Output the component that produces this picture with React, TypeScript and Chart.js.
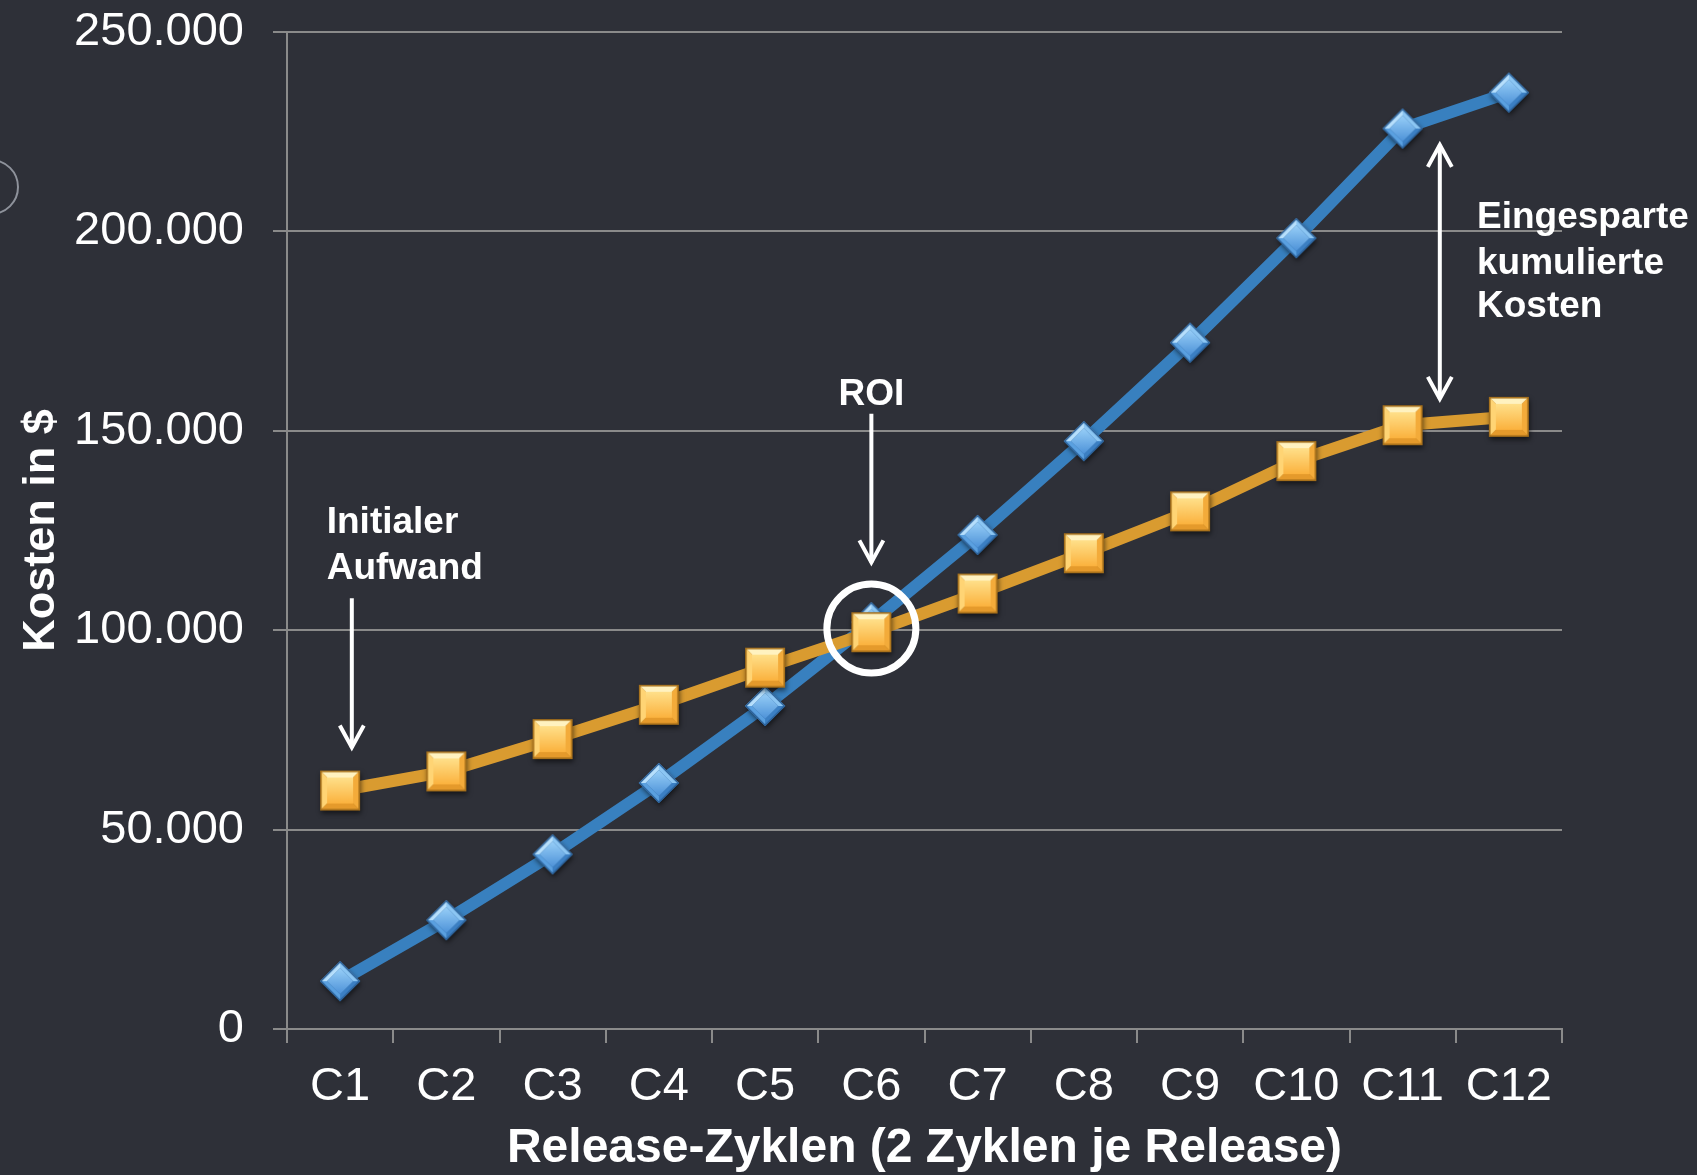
import React, { useEffect, useRef } from 'react';
import { Chart, registerables } from 'chart.js';

Chart.register(...registerables);

// ---------- data ----------
const categories = ['C1', 'C2', 'C3', 'C4', 'C5', 'C6', 'C7', 'C8', 'C9', 'C10', 'C11', 'C12'];
const blueValues = [12000, 27300, 43800, 61700, 81000, 102000, 123900, 147400, 172100, 198300, 225800, 234800];
const orangeValues = [59800, 64600, 72700, 81300, 90600, 99500, 109200, 119300, 129800, 142400, 151400, 153500];
const yTickValues = [0, 50000, 100000, 150000, 200000, 250000];

const xTitle = 'Release-Zyklen (2 Zyklen je Release)';
const yTitle = 'Kosten in $';

// annotation texts and anchors (category index, value)
const initialLines = ['Initialer', 'Aufwand'];
const initialTextAnchor = [-0.126, 127000, 115500];
const initialArrow = [0.11, 108000, 70600];
const roiLines = ['ROI'];
const roiIndex = 5;
const roiTextValue = 159000;
const roiArrow = [5, 154300, 117000];
const roiCircleValue = 100400;
const savedLines = ['Eingesparte', 'kumulierte', 'Kosten'];
const savedTextAnchor = [10.7, 203300, 191900, 181000];
const savedArrow = [10.35, 221700, 158000];

// ---------- style ----------
const FONT = '"Liberation Sans", Arial, Helvetica, sans-serif';
const BG = '#2e3038';
const GRID = '#8a8a8a';
const BLUE = '#3880bf';
const ORANGE = '#d99b30';

const fmt = (v: number) => String(v).replace(/\B(?=(\d{3})+(?!\d))/g, '.');

function poly(g: CanvasRenderingContext2D, pts: number[][], fill: string | CanvasGradient) {
  g.beginPath();
  g.moveTo(pts[0][0], pts[0][1]);
  for (let i = 1; i < pts.length; i++) g.lineTo(pts[i][0], pts[i][1]);
  g.closePath();
  g.fillStyle = fill;
  g.fill();
}

function makeSquare(side: number): HTMLCanvasElement {
  const pad = 8;
  const c = document.createElement('canvas');
  c.width = c.height = side + pad * 2;
  const g = c.getContext('2d')!;
  const x0 = pad, y0 = pad, x1 = pad + side, y1 = pad + side;
  const b = 7;
  g.save();
  g.shadowColor = 'rgba(0,0,0,0.55)';
  g.shadowBlur = 5;
  g.shadowOffsetX = 1;
  g.shadowOffsetY = 3;
  g.fillStyle = '#b47a1c';
  g.fillRect(x0, y0, side, side);
  g.restore();
  poly(g, [[x0, y0], [x1, y0], [x1 - b, y0 + b], [x0 + b, y0 + b]], '#fff2c0');
  poly(g, [[x0, y0], [x0 + b, y0 + b], [x0 + b, y1 - b], [x0, y1]], '#ffd474');
  poly(g, [[x1, y0], [x1, y1], [x1 - b, y1 - b], [x1 - b, y0 + b]], '#f3ab3a');
  poly(g, [[x0, y1], [x0 + b, y1 - b], [x1 - b, y1 - b], [x1, y1]], '#e59a2b');
  const gr = g.createLinearGradient(0, y0 + b, 0, y1 - b);
  gr.addColorStop(0, '#ffe08a');
  gr.addColorStop(1, '#fbb23e');
  poly(g, [[x0 + b, y0 + b], [x1 - b, y0 + b], [x1 - b, y1 - b], [x0 + b, y1 - b]], gr);
  g.strokeStyle = '#a46e1a';
  g.lineWidth = 1.6;
  g.strokeRect(x0 + 0.8, y0 + 0.8, side - 1.6, side - 1.6);
  return c;
}

function makeDiamond(r: number): HTMLCanvasElement {
  const pad = 8;
  const c = document.createElement('canvas');
  c.width = c.height = 2 * r + pad * 2;
  const g = c.getContext('2d')!;
  const cx = pad + r, cy = pad + r;
  const r2 = r - 7;
  const T = [cx, cy - r], R = [cx + r, cy], B = [cx, cy + r], L = [cx - r, cy];
  const t = [cx, cy - r2], rr = [cx + r2, cy], bb = [cx, cy + r2], l = [cx - r2, cy];
  g.save();
  g.shadowColor = 'rgba(0,0,0,0.55)';
  g.shadowBlur = 5;
  g.shadowOffsetX = 1;
  g.shadowOffsetY = 3;
  poly(g, [T, R, B, L], '#2f69a3');
  g.restore();
  poly(g, [T, t, l, L], '#b6dffc');
  poly(g, [T, R, rr, t], '#8cc6f3');
  poly(g, [L, l, bb, B], '#5aa0e0');
  poly(g, [R, B, bb, rr], '#3b7fc3');
  const gr = g.createLinearGradient(0, cy - r2, 0, cy + r2);
  gr.addColorStop(0, '#98cff8');
  gr.addColorStop(1, '#4d92d8');
  poly(g, [t, rr, bb, l], gr);
  g.beginPath();
  g.moveTo(T[0], T[1] + 0.8);
  g.lineTo(R[0] - 0.8, R[1]);
  g.lineTo(B[0], B[1] - 0.8);
  g.lineTo(L[0] + 0.8, L[1]);
  g.closePath();
  g.strokeStyle = '#2c629a';
  g.lineWidth = 1.4;
  g.stroke();
  return c;
}

function drawArrow(ctx: CanvasRenderingContext2D, x: number, yStart: number, yEnd: number, both: boolean) {
  const hw = 12, hh = 22;
  ctx.beginPath();
  ctx.moveTo(x, yStart);
  ctx.lineTo(x, yEnd);
  ctx.stroke();
  const head = (tipY: number, dir: number) => {
    ctx.beginPath();
    ctx.moveTo(x - hw, tipY - dir * hh);
    ctx.lineTo(x, tipY);
    ctx.lineTo(x + hw, tipY - dir * hh);
    ctx.stroke();
  };
  head(yEnd, yEnd > yStart ? 1 : -1);
  if (both) head(yStart, yStart > yEnd ? 1 : -1);
}

const bgPlugin = {
  id: 'bgFill',
  beforeDraw(chart: any) {
    const { ctx, width, height } = chart;
    ctx.save();
    ctx.fillStyle = BG;
    ctx.fillRect(0, 0, width, height);
    // partial decorative circle at the left edge
    ctx.beginPath();
    ctx.arc(-9, 187, 27, 0, Math.PI * 2);
    ctx.strokeStyle = '#8e929b';
    ctx.lineWidth = 2;
    ctx.stroke();
    ctx.restore();
  },
};

const annotationPlugin = {
  id: 'annotations',
  afterDatasetsDraw(chart: any) {
    const { ctx } = chart;
    const x = chart.scales.x;
    const y = chart.scales.y;
    const px = (i: number) => x.getPixelForValue(i);
    const py = (v: number) => y.getPixelForValue(v);
    ctx.save();
    ctx.strokeStyle = '#ffffff';
    ctx.fillStyle = '#ffffff';
    ctx.lineCap = 'butt';
    ctx.lineJoin = 'miter';

    // ROI circle
    ctx.lineWidth = 7;
    ctx.beginPath();
    ctx.arc(px(roiIndex), py(roiCircleValue), 44.5, 0, Math.PI * 2);
    ctx.stroke();

    // arrows
    ctx.lineWidth = 4;
    drawArrow(ctx, px(initialArrow[0]), py(initialArrow[1]), py(initialArrow[2]), false);
    drawArrow(ctx, px(roiArrow[0]), py(roiArrow[1]), py(roiArrow[2]), false);
    drawArrow(ctx, px(savedArrow[0]), py(savedArrow[1]), py(savedArrow[2]), true);

    // texts
    ctx.font = `bold 37px ${FONT}`;
    ctx.textBaseline = 'middle';
    ctx.textAlign = 'left';
    initialLines.forEach((s, i) => ctx.fillText(s, px(initialTextAnchor[0]), py(initialTextAnchor[1 + i])));
    savedLines.forEach((s, i) => ctx.fillText(s, px(savedTextAnchor[0]), py(savedTextAnchor[1 + i])));
    ctx.textAlign = 'center';
    roiLines.forEach((s) => ctx.fillText(s, px(roiIndex), py(roiTextValue)));
    ctx.restore();
  },
};

export default function App() {
  const ref = useRef<HTMLCanvasElement | null>(null);

  useEffect(() => {
    document.body.style.margin = '0';
    document.body.style.background = BG;
    const canvas = ref.current;
    if (!canvas) return;
    const square = makeSquare(40);
    const diamond = makeDiamond(20);

    const chart = new Chart(canvas, {
      type: 'line',
      data: {
        labels: categories,
        datasets: [
          {
            label: 'Manuell',
            data: blueValues,
            borderColor: BLUE,
            backgroundColor: BLUE,
            borderWidth: 12,
            tension: 0,
            pointStyle: diamond as any,
            pointRadius: 20,
            pointHoverRadius: 20,
            order: 1,
            clip: false as any,
          },
          {
            label: 'Automatisiert',
            data: orangeValues,
            borderColor: ORANGE,
            backgroundColor: ORANGE,
            borderWidth: 12,
            tension: 0,
            pointStyle: square as any,
            pointRadius: 20,
            pointHoverRadius: 20,
            order: 0,
            clip: false as any,
          },
        ],
      },
      options: {
        responsive: false,
        maintainAspectRatio: false,
        animation: false,
        devicePixelRatio: 1,
        events: [],
        layout: { padding: { left: 0, right: 135, top: 29, bottom: 0 } },
        plugins: {
          legend: { display: false },
          tooltip: { enabled: false },
        },
        scales: {
          x: {
            type: 'category',
            offset: true,
            grid: {
              display: true,
              drawOnChartArea: false,
              drawTicks: true,
              tickLength: 14,
              color: GRID,
              lineWidth: 2,
              offset: true,
            },
            border: { display: true, color: GRID, width: 2 },
            ticks: {
              color: '#ffffff',
              font: { family: FONT, size: 47 },
              padding: 16,
              maxRotation: 0,
              autoSkip: false,
            },
            title: {
              display: true,
              text: xTitle,
              color: '#ffffff',
              font: { family: FONT, size: 48, weight: 'bold' },
              padding: { top: 0, bottom: -3 },
            },
            afterFit: (s: any) => {
              s.height = 146;
              s.paddingLeft = 0;
              s.paddingRight = 0;
            },
          },
          y: {
            type: 'linear',
            min: yTickValues[0],
            max: yTickValues[yTickValues.length - 1],
            afterBuildTicks: (s: any) => {
              s.ticks = yTickValues.map((v) => ({ value: v }));
            },
            grid: { color: GRID, lineWidth: 2, tickLength: 14, drawTicks: true },
            border: { display: true, color: GRID, width: 2 },
            ticks: {
              color: '#ffffff',
              font: { family: FONT, size: 47 },
              padding: 29,
              callback: (v: any) => fmt(Number(v)),
            },
            title: {
              display: true,
              text: yTitle,
              color: '#ffffff',
              font: { family: FONT, size: 45, weight: 'bold' },
              padding: { top: 15, bottom: 0 },
            },
            afterFit: (s: any) => {
              s.width = 287;
              s.paddingTop = 0;
              s.paddingBottom = 0;
            },
          },
        },
      } as any,
      plugins: [bgPlugin, annotationPlugin],
    });
    return () => chart.destroy();
  }, []);

  return (
    <div style={{ width: 1697, height: 1175, background: BG }}>
      <canvas ref={ref} width={1697} height={1175} style={{ display: 'block', width: 1697, height: 1175 }} />
    </div>
  );
}
